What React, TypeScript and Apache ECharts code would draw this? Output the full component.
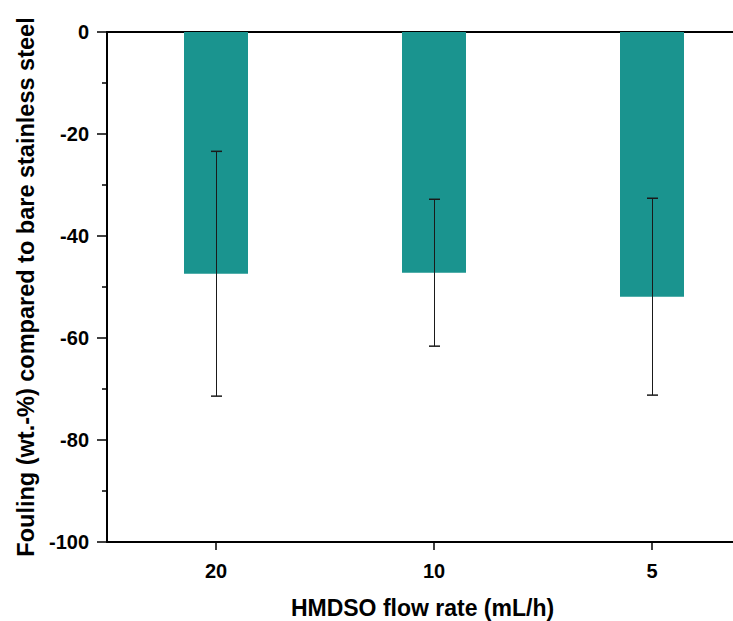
import React, { useEffect, useRef } from "react";
import * as echarts from "echarts";

const categories = ["20", "10", "5"];
const meanValues = [-47.4, -47.2, -51.9];
const errorValues = [24.0, 14.4, 19.3];
const yTicks = { min: -100, max: 0, interval: 20 };

const FONT = "'Liberation Sans', Arial, sans-serif";

export default function App() {
  const ref = useRef<HTMLDivElement>(null);
  useEffect(() => {
    if (!ref.current) return;
    const chart = echarts.init(ref.current, undefined, { renderer: "svg" });
    const errData = meanValues.map((m, i) => [i, m - errorValues[i], m + errorValues[i]]);
    chart.setOption({
      animation: false,
      backgroundColor: "#ffffff",
      grid: { left: 107, top: 32, width: 654, height: 510, containLabel: false, outerBoundsMode: "none" },
      xAxis: [
        {
          type: "category",
          data: categories,
          position: "bottom",
          axisLine: { show: true, onZero: false, lineStyle: { color: "#000", width: 2 } },
          axisTick: { show: true, alignWithLabel: true, length: 8, lineStyle: { color: "#000", width: 1.5 } },
          axisLabel: { color: "#000", fontWeight: "bold", fontSize: 20, fontFamily: FONT, margin: 19 },
          name: "HMDSO flow rate (mL/h)",
          nameLocation: "middle",
          nameGap: 56,
          nameTextStyle: {
            color: "#000",
            fontWeight: "bold",
            fontSize: 23,
            lineHeight: 20,
            fontFamily: FONT,
            padding: [0, 23, 0, 0],
          },
          splitLine: { show: false },
        },
        {
          type: "category",
          data: categories,
          position: "top",
          axisLine: { show: true, onZero: false, lineStyle: { color: "#000", width: 2 } },
          axisTick: { show: false },
          axisLabel: { show: false },
          splitLine: { show: false },
        },
      ],
      yAxis: {
        type: "value",
        min: yTicks.min,
        max: yTicks.max,
        interval: yTicks.interval,
        axisLine: { show: true, onZero: false, lineStyle: { color: "#000", width: 2 } },
        axisTick: { show: true, inside: false, length: 10, lineStyle: { color: "#000", width: 1.5 } },
        minorTick: { show: true, splitNumber: 2, length: 5, lineStyle: { color: "#000", width: 1.5 } },
        axisLabel: { color: "#000", fontWeight: "bold", fontSize: 20, fontFamily: FONT, margin: 18 },
        splitLine: { show: false },
        name: "Fouling (wt.-%) compared to bare stainless steel",
        nameLocation: "middle",
        nameGap: 69,
        nameTextStyle: { color: "#000", fontWeight: "bold", fontSize: 23.5, fontFamily: FONT },
      },
      series: [
        {
          type: "bar",
          data: meanValues,
          barWidth: 64,
          itemStyle: { color: "#1a948f" },
          xAxisIndex: 0,
          yAxisIndex: 0,
        },
        {
          type: "custom",
          xAxisIndex: 0,
          yAxisIndex: 0,
          z: 10,
          clip: false,
          data: errData,
          renderItem: (params: any, api: any) => {
            const x = api.value(0);
            const lo = api.coord([x, api.value(1)]);
            const hi = api.coord([x, api.value(2)]);
            const cx = Math.round(lo[0]) + 0.5;
            const hw = 5.5;
            return {
              type: "group",
              children: [
                { type: "line", shape: { x1: cx, y1: lo[1], x2: cx, y2: hi[1] }, style: { stroke: "#1a1a1a", lineWidth: 1 } },
                { type: "line", shape: { x1: cx - hw, y1: lo[1], x2: cx + hw, y2: lo[1] }, style: { stroke: "#1a1a1a", lineWidth: 1.5 } },
                { type: "line", shape: { x1: cx - hw, y1: hi[1], x2: cx + hw, y2: hi[1] }, style: { stroke: "#1a1a1a", lineWidth: 1.5 } },
              ],
            };
          },
        },
      ],
    });
    return () => chart.dispose();
  }, []);
  return (
    <div
      ref={ref}
      style={{ position: "fixed", left: 0, top: 0, width: 733, height: 621, background: "#fff" }}
    />
  );
}
